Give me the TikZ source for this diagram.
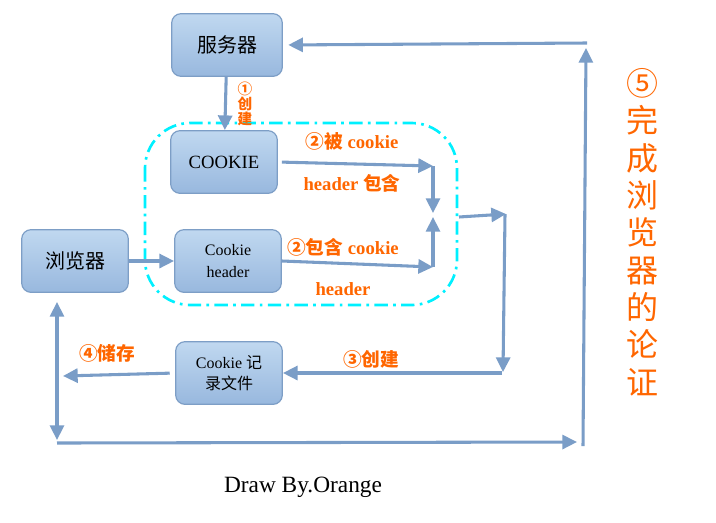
\documentclass[tikz,border=0pt]{standalone}
\usepackage{fontspec}
\setmainfont{Liberation Serif}
\newfontfamily\cjk{Noto Sans CJK SC}
\usetikzlibrary{arrows.meta}
\definecolor{flowblue}{RGB}{122,157,199}
\definecolor{boxtop}{RGB}{192,216,240}
\definecolor{boxbot}{RGB}{152,184,222}
\definecolor{boxline}{RGB}{125,158,198}
\definecolor{note}{RGB}{255,102,0}
\definecolor{ring}{RGB}{0,240,255}
\begin{document}
\begin{tikzpicture}[x=0.75pt,y=-0.75pt,
  >={Triangle[length=11pt,width=10.5pt]},
  box/.style={rectangle,rounded corners=7pt,draw=boxline,line width=0.9pt,
    top color=boxtop,bottom color=boxbot,minimum width=80pt,minimum height=47pt,
    align=center,font=\fontsize{12}{16}\selectfont},
  flow/.style={draw=flowblue,line width=2.3pt},
  lab/.style={text=note,font=\fontsize{14}{16}\selectfont\bfseries}]
  \useasboundingbox (0,0) rectangle (716,522);
  \draw[ring,line width=2pt,rounded corners=34pt,
    dash pattern=on 10pt off 4pt on 2pt off 4pt] (145,123) rectangle (457,305);
  \node [box,minimum width=83pt,font=\cjk\fontsize{15}{18}\selectfont] (srv) at (227,45) {服务器};
  \node [box,font=\fontsize{14}{16}\selectfont] (ck) at (224,162) {COOKIE};
  \node [box] (hdr) at (228,261) {Cookie\\header};
  \node [box,font=\cjk\fontsize{15}{18}\selectfont] (brw) at (75,261) {浏览器};
  \node [box] (file) at (229,373) {Cookie {\cjk 记}\\{\cjk 录文件}};
  \coordinate (c1) at (433,166);
  \coordinate (c2) at (433,213);
  \coordinate (c3) at (433,267);
  \coordinate (c4) at (433,217);
  \coordinate (c5) at (459,217);
  \coordinate (c6) at (506,214);
  \coordinate (c7) at (505,214);
  \coordinate (c8) at (503,372);
  \coordinate (c9) at (502,373);
  \coordinate (c10) at (63,376);
  \coordinate (c11) at (57,302);
  \coordinate (c12) at (57,440);
  \coordinate (c13) at (57,443);
  \coordinate (c14) at (577,442);
  \coordinate (c15) at (583,446);
  \coordinate (c16) at (586,48);
  \coordinate (c17) at (587,43);
  \draw[flow,->] (srv) -- (ck);
  \draw[flow,->,shorten <=3pt] (ck.east) -- (c1);
  \draw[flow,->] (c1) -- (c2);
  \draw[flow,->] (hdr.east) -- (c3);
  \draw[flow,->] (c3) -- (c4);
  \draw[flow,->] (c5) -- (c6);
  \draw[flow,->] (c7) -- (c8);
  \draw[flow,->] (c9) -- (file.east);
  \draw[flow,->] (brw.east) -- (hdr.west);
  \draw[flow,->,shorten <=4pt] (file.west) -- (c10);
  \draw[flow,<->] (c11) -- (c12);
  \draw[flow,->] (c13) -- (c14);
  \draw[flow,->] (c15) -- (c16);
  \draw[flow,->,shorten >=4pt] (c17) -- (srv.east);
  \node [lab,align=center,font=\cjk\fontsize{11}{11.5}\selectfont\bfseries] (n1) at (245,104) {①\\创\\建};
  \node [lab] (n2a) at (352,141) {{\cjk ②被} cookie};
  \node [lab] (n2b) at (352,183) {header {\cjk 包含}};
  \node [lab] (n3a) at (343,247) {{\cjk ②包含} cookie};
  \node [lab] (n3b) at (343,289) {header};
  \node [lab,font=\cjk\fontsize{14}{16}\selectfont\bfseries] (n4) at (371,359) {③创建};
  \node [lab,font=\cjk\fontsize{14}{16}\selectfont\bfseries] (n5) at (107,353) {④储存};
  \node [text=note,align=center,font=\cjk\fontsize{24}{28}\selectfont] (n6) at (642,232)
    {⑤\\完\\成\\浏\\览\\器\\的\\论\\证};
  \node [font=\fontsize{17.5}{20}\selectfont] (sign) at (303,487) {Draw By.Orange};
\end{tikzpicture}
\end{document}
